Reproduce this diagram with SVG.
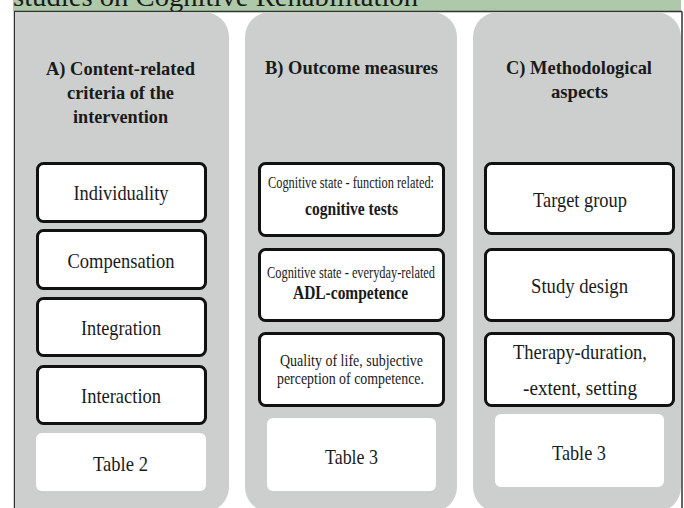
<svg xmlns="http://www.w3.org/2000/svg" width="684" height="508" viewBox="0 0 684 508">
  <defs>
    <clipPath id="frameClip">
      <rect x="15" y="12" width="667" height="496"/>
    </clipPath>
    <clipPath id="topClip">
      <rect x="0" y="0" width="684" height="11"/>
    </clipPath>
    <style>
      .panel { fill: #cdcfce; }
      .box { fill: #ffffff; stroke: #111111; stroke-width: 3; }
      .tbl { fill: #ffffff; }
      .hdr { font-size: 19.5px; font-weight: bold; }
      .lbl { font-size: 21px; }
      .sm { font-size: 16px; }
      .bd { font-size: 18px; font-weight: bold; }
      .md { font-size: 17px; }
    </style>
  </defs>
  <rect x="0" y="0" width="684" height="508" fill="#ffffff"/>
  <!-- title bar -->
  <g id="title" font-family="'Liberation Serif', 'Times New Roman', serif" fill="#1a1a1a">
    <rect x="13" y="0" width="668" height="11" fill="#adc9a9"/>
    <text x="13" y="5.5" font-size="28" text-anchor="start" textLength="405" lengthAdjust="spacingAndGlyphs" clip-path="url(#topClip)">studies on Cognitive Rehabilitation</text>
  </g>
  <!-- frame -->
  <path d="M14.5 508 V11.5 H682" fill="none" stroke="#333333" stroke-width="1.5"/>
  <path d="M682 11.5 V508" fill="none" stroke="#333333" stroke-width="1.5"/>
  <!-- panels -->
  <g clip-path="url(#frameClip)">
    <rect id="panelA" class="panel" x="-10" y="12" width="239" height="500" rx="25" ry="25"/>
    <rect id="panelB" class="panel" x="245" y="12" width="212" height="500" rx="25" ry="25"/>
    <rect id="panelC" class="panel" x="473" y="12" width="208" height="500" rx="25" ry="25"/>
  </g>

  <g font-family="'Liberation Serif', 'Times New Roman', serif" fill="#1a1a1a" text-anchor="middle">
  <!-- Panel A -->
  <g id="headerA">
    <text class="hdr" x="120.5" y="75" textLength="149" lengthAdjust="spacingAndGlyphs">A) Content-related</text>
    <text class="hdr" x="120.5" y="99" textLength="107" lengthAdjust="spacingAndGlyphs">criteria of the</text>
    <text class="hdr" x="120.5" y="123" textLength="95" lengthAdjust="spacingAndGlyphs">intervention</text>
  </g>
  <g id="individuality">
    <rect class="box" x="37.5" y="163.5" width="168" height="58" rx="6"/>
    <text class="lbl" x="121" y="200" textLength="95" lengthAdjust="spacingAndGlyphs">Individuality</text>
  </g>
  <g id="compensation">
    <rect class="box" x="37.5" y="230.5" width="168" height="58" rx="6"/>
    <text class="lbl" x="121" y="268" textLength="107" lengthAdjust="spacingAndGlyphs">Compensation</text>
  </g>
  <g id="integration">
    <rect class="box" x="37.5" y="298.5" width="168" height="57" rx="6"/>
    <text class="lbl" x="121" y="335" textLength="80" lengthAdjust="spacingAndGlyphs">Integration</text>
  </g>
  <g id="interaction">
    <rect class="box" x="37.5" y="366.5" width="168" height="57" rx="6"/>
    <text class="lbl" x="121" y="403" textLength="80" lengthAdjust="spacingAndGlyphs">Interaction</text>
  </g>
  <g id="table2">
    <rect class="tbl" x="36" y="433" width="170" height="58" rx="6"/>
    <text class="lbl" x="120.5" y="471" textLength="55" lengthAdjust="spacingAndGlyphs">Table 2</text>
  </g>

  <!-- Panel B -->
  <g id="headerB">
    <text class="hdr" x="351.5" y="74" textLength="173" lengthAdjust="spacingAndGlyphs">B) Outcome measures</text>
  </g>
  <g id="cognitiveTests">
    <rect class="box" x="259.5" y="163.5" width="184" height="72" rx="6"/>
    <text class="sm" x="351" y="188" textLength="166" lengthAdjust="spacingAndGlyphs">Cognitive state - function related:</text>
    <text class="bd" x="351.5" y="215" textLength="93" lengthAdjust="spacingAndGlyphs">cognitive tests</text>
  </g>
  <g id="adlCompetence">
    <rect class="box" x="259.5" y="249.5" width="184" height="71" rx="6"/>
    <text class="sm" x="351" y="278" textLength="168" lengthAdjust="spacingAndGlyphs">Cognitive state - everyday-related</text>
    <text class="bd" x="350.5" y="299" textLength="115" lengthAdjust="spacingAndGlyphs">ADL-competence</text>
  </g>
  <g id="qualityOfLife">
    <rect class="box" x="259.5" y="333.5" width="184" height="72" rx="6"/>
    <text class="md" x="351.5" y="366" textLength="143" lengthAdjust="spacingAndGlyphs">Quality of life, subjective</text>
    <text class="md" x="350.5" y="383.5" textLength="147" lengthAdjust="spacingAndGlyphs">perception of competence.</text>
  </g>
  <g id="table3B">
    <rect class="tbl" x="267" y="418" width="169" height="73" rx="6"/>
    <text class="lbl" x="351.5" y="464" textLength="53" lengthAdjust="spacingAndGlyphs">Table 3</text>
  </g>

  <!-- Panel C -->
  <g id="headerC">
    <text class="hdr" x="579" y="74" textLength="146" lengthAdjust="spacingAndGlyphs">C) Methodological</text>
    <text class="hdr" x="579.5" y="98" textLength="57" lengthAdjust="spacingAndGlyphs">aspects</text>
  </g>
  <g id="targetGroup">
    <rect class="box" x="485.5" y="163.5" width="188" height="70" rx="6"/>
    <text class="lbl" x="580" y="207" textLength="94" lengthAdjust="spacingAndGlyphs">Target group</text>
  </g>
  <g id="studyDesign">
    <rect class="box" x="485.5" y="249.5" width="188" height="71" rx="6"/>
    <text class="lbl" x="579.5" y="293" textLength="97" lengthAdjust="spacingAndGlyphs">Study design</text>
  </g>
  <g id="therapyDuration">
    <rect class="box" x="485.5" y="333.5" width="188" height="72" rx="6"/>
    <text class="lbl" x="580" y="359" textLength="134" lengthAdjust="spacingAndGlyphs">Therapy-duration,</text>
    <text class="lbl" x="580" y="395" textLength="114" lengthAdjust="spacingAndGlyphs">-extent, setting</text>
  </g>
  <g id="table3C">
    <rect class="tbl" x="495" y="414" width="169" height="73" rx="6"/>
    <text class="lbl" x="579" y="460" textLength="54" lengthAdjust="spacingAndGlyphs">Table 3</text>
  </g>
  </g>
</svg>
